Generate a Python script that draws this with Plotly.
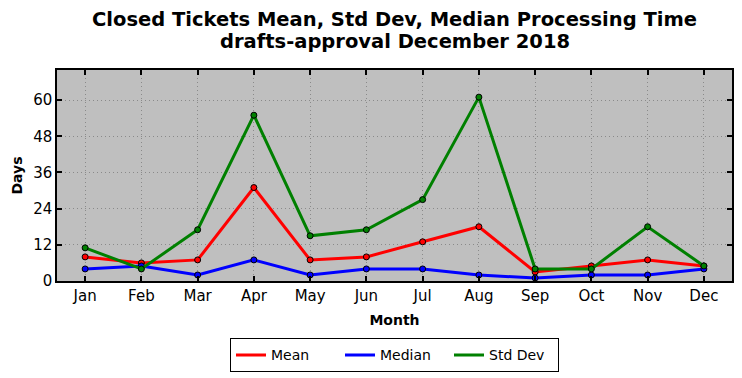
import plotly.graph_objects as go

months = ["Jan", "Feb", "Mar", "Apr", "May", "Jun", "Jul", "Aug", "Sep", "Oct", "Nov", "Dec"]
mean_vals = [8, 6, 7, 31, 7, 8, 13, 18, 3, 5, 7, 5]
median_vals = [4, 5, 2, 7, 2, 4, 4, 2, 1, 2, 2, 4]
std_vals = [11, 4, 17, 55, 15, 17, 27, 61, 4, 4, 18, 5]
y_ticks = [0, 12, 24, 36, 48, 60]

series = [("Mean", mean_vals, "red"), ("Median", median_vals, "blue"), ("Std Dev", std_vals, "green")]

fig = go.Figure()
for name, vals, color in series:
    fig.add_trace(go.Scatter(
        x=list(range(len(months))), y=vals, name=name, mode="lines+markers", showlegend=False,
        line=dict(color=color, width=3),
        marker=dict(color=color, size=6, line=dict(color="black", width=1)),
    ))
# legend entries show plain lines, as in the reference
for name, vals, color in series:
    fig.add_trace(go.Scatter(x=[None], y=[None], name=name, mode="lines",
                             line=dict(color=color, width=3), showlegend=True))

font = "DejaVu Sans"
fig.update_layout(
    width=742, height=378,
    margin=dict(l=57, r=10, t=70, b=97),
    paper_bgcolor="white", plot_bgcolor="#bfbfbf",
    font=dict(family=font, color="black"),
    title=dict(text="<b>Closed Tickets Mean, Std Dev, Median Processing Time</b>",
               x=0.5, xanchor="center", xref="paper", yref="container", y=0.9497, yanchor="middle",
               font=dict(size=19.5, family=font)),
    annotations=[dict(text="<b>drafts-approval December 2018</b>", x=0.5, xref="paper", xanchor="center",
                      y=1.1374, yref="paper", yanchor="middle", showarrow=False,
                      font=dict(size=19.5, family=font)),
                 dict(text="<b>Days</b>", x=-0.0607, xref="paper", xanchor="center",
                      y=0.5, yref="paper", yanchor="middle", textangle=-90, showarrow=False,
                      font=dict(size=14, family=font))],
    showlegend=True,
    legend=dict(orientation="h", x=0.5, xanchor="center", yref="container", y=0.06, yanchor="middle",
                bordercolor="black", borderwidth=1, font=dict(size=14, family=font),
                entrywidth=64),
)
axis_common = dict(
    tickfont=dict(size=15), showgrid=True, gridcolor="#8a8a8a", griddash="1px,3px", gridwidth=1,
    showline=True, linecolor="black", linewidth=1.5, mirror="allticks", ticks="inside", ticklen=5,
    tickcolor="black", tickwidth=1.5, zeroline=False, automargin=False,
)
fig.update_xaxes(
    range=[-0.5, 11.5], tickmode="array", tickvals=list(range(len(months))), ticktext=months,
    title=dict(text="<b>Month</b>", font=dict(size=14), standoff=11), **axis_common,
)
fig.update_yaxes(range=[0, 70], tickmode="array", tickvals=y_ticks, **axis_common)
fig.write_html("out.html", config={"displayModeBar": False},
               post_script="document.body.style.margin='0px';")
